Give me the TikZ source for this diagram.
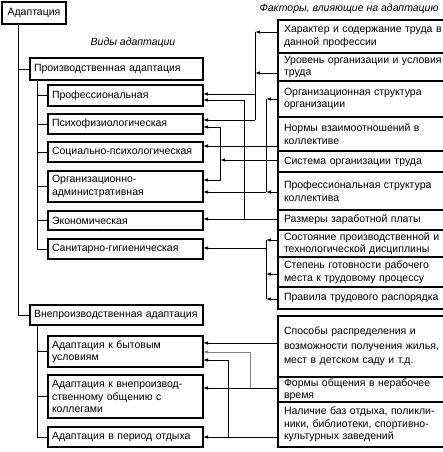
\documentclass[tikz,border=0pt]{standalone}
\usepackage{fontspec}
\setmainfont{Liberation Sans}
\usetikzlibrary{arrows.meta}

\begin{document}
\begin{tikzpicture} [x=1pt, y=-1pt, font=\fontsize{10.5}{12.5}\selectfont,
        box/.style={draw, line width=1.3pt, anchor=north west, outer sep=0pt, inner xsep=4pt, inner ysep=1pt, align=left},
        kind/.style={box, text width=147pt, minimum height=#1},
        factor/.style={box, inner xsep=6pt, text width=170pt, minimum height=#1},
        heading/.style={font=\fontsize{10.5}{12.5}\selectfont\itshape}]
            \path[use as bounding box] (0,0) rectangle (443,452);
            \fill[white] (0,0) rectangle (443,452);
            \clip (0,0) rectangle (443,452);

            \node[box, line width=2.5pt, minimum width=64pt, minimum height=22pt, align=center] (adapt) at (2,2) {Адаптация};
            \node[heading] (vidy) at (133,43) {Виды адаптации};
            \node[heading, anchor=east] (fakt) at (442,9) {Факторы, влияющие на адаптацию};

            \node[box, text width=165pt, minimum height=22pt] (prod) at (30,58) {Производственная адаптация};
            \node[kind=21pt] (prof) at (48,85)  {Профессиональная};
            \node[kind=20pt] (psy)  at (48,114) {Психофизиологическая};
            \node[kind=20pt] (soc)  at (48,142) {Социально-психологическая};
            \node[kind=31pt] (org)  at (48,171) {Организационно-\\административная};
            \node[kind=19pt] (eco)  at (48,211) {Экономическая};
            \node[kind=20pt] (san)  at (48,239) {Санитарно-гигиеническая};
            \node[box, text width=165pt, minimum height=20pt] (vne) at (30,305) {Внепроизводственная адаптация};
            \node[kind=31pt] (byt)  at (48,336) {Адаптация к бытовым\\условиям};
            \node[kind=43pt] (obsh) at (48,375) {Адаптация к внепроизвод-\\ственному общению с\\коллегами};
            \node[kind=20pt] (rest) at (48,427) {Адаптация в период отдыха};

            \node[factor=33pt] (f1)  at (278,20)  {Характер и содержание труда в\\данной профессии};
            \node[factor=28pt] (f2)  at (278,53)  {Уровень организации и условия\\труда};
            \node[factor=36pt] (f3)  at (278,81)  {Организационная структура\\организации};
            \node[factor=34pt] (f4)  at (278,117) {Нормы взаимоотношений в\\коллективе};
            \node[factor=21pt] (f5)  at (278,151) {Система организации труда};
            \node[factor=38pt] (f6)  at (278,172) {Профессиональная структура\\коллектива};
            \node[factor=20pt] (f7)  at (278,210) {Размеры заработной платы};
            \node[factor=27pt] (f8)  at (278,230) {Состояние производственной и\\технологической дисциплины};
            \node[factor=30pt] (f9)  at (278,257) {Степень готовности рабочего\\места к трудовому процессу};
            \node[factor=22pt] (f10) at (278,287) {Правила трудового распорядка};
            \node[factor=61pt] (f11) at (278,316) {Способы распределения и\\[2pt]возможности получения жилья,\\[2pt]мест в детском саду и т.д.};
            \node[factor=25pt] (f12) at (278,377) {Формы общения в нерабочее\\время};
            \node[factor=45pt] (f13) at (278,402) {Наличие баз отдыха, поликли-\\ники, библиотеки, спортивно-\\культурных заведений};

            % tree on the left
            \coordinate (trunk) at (18,0);
            \coordinate (stem) at (37,0);
            \draw[line width=0.8pt] (adapt.south -| trunk) |- (vne.west);
            \draw[line width=0.8pt] (trunk |- prod.west) -- (prod.west);
            \draw[line width=0.8pt] (prod.south -| stem) |- (san.west);
            \foreach \n in {prof, psy, soc, org, eco}
                \draw[line width=0.8pt] (stem |- \n.west) -- (\n.west);
            \draw[line width=0.8pt] (vne.south -| stem) |- (rest.west);
            \foreach \n in {byt, obsh}
                \draw[line width=0.8pt] (stem |- \n.west) -- (\n.west);

            % buses between factors and kinds
            \coordinate (a1) at (255,32);
            \coordinate (a2) at (255,73);
            \coordinate (a3) at (255,94);
            \coordinate (a4) at (255,120);
            \coordinate (b1) at (244,100);
            \coordinate (b2) at (244,219);
            \coordinate (c1) at (220,127);
            \coordinate (c2) at (220,160);
            \coordinate (c3) at (220,180);
            \coordinate (d1) at (266,99);
            \coordinate (d2) at (266,192);
            \coordinate (n4) at (0,146);
            \coordinate (s1) at (266,240);
            \coordinate (s2) at (266,248);
            \coordinate (s3) at (266,274);
            \coordinate (s4) at (266,299);
            \coordinate (n11) at (0,343);
            \coordinate (e1) at (250,352);
            \coordinate (e2) at (250,388);
            \coordinate (g1) at (228,360);
            \coordinate (g2) at (228,437);

            \begin{scope}[line width=0.8pt]
                \draw (a1) -- (a4);
                \draw (d1) -- (d2);
                \draw (s1) -- (s4);
            \end{scope}

            \begin{scope}[->, >={Latex[length=5pt, width=3.5pt]}, line width=0.8pt]
                \draw (f1.west |- a1) -- (a1);
                \draw (f2.west |- a2) -- (a2);
                \draw (a3) -- (prof.east |- a3);
                \draw (a4) -- (psy.east |- a4);
                \draw (b2) |- (prof.east |- b1);
                \draw (f7.west |- b2) -- (eco.east |- b2);
                \draw (f3.west |- d1) -- (d1);
                \draw (f6.west |- d2) -- (d2);
                \draw (d2) -- (org.east |- d2);
                \draw (f4.west |- n4) -- (soc.east |- n4);
                \draw (f5.west |- c2) -- (c2);
                \draw (c2) |- (psy.east |- c1);
                \draw (c2) |- (org.east |- c3);
                \draw (f8.west |- s1) -- (s1);
                \draw (f9.west |- s3) -- (s3);
                \draw (f10.west |- s4) -- (s4);
                \draw (s2) -- (san.east |- s2);
                \draw (f11.west |- n11) -- (byt.east |- n11);
                \draw (f12.west |- e2) -- (obsh.east |- e2);
                \draw[gray] (e2) |- (byt.east |- e1);
                \draw (f13.west |- g2) -- (rest.east |- g2);
                \draw (g2) |- (byt.east |- g1);
            \end{scope}
        \end{tikzpicture}
\end{document}
